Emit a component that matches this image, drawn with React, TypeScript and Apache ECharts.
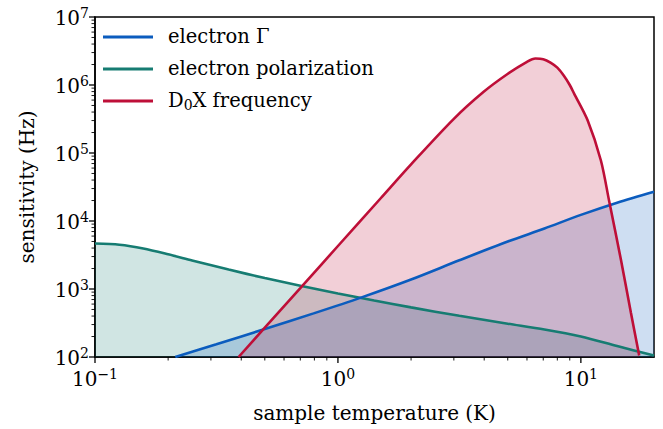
import { useEffect, useRef } from "react";
import * as echarts from "echarts";

const FONT = "DejaVu Serif";

// electron Γ
const gammaT = [0.214, 0.316, 0.5, 0.794, 1.26, 2.0, 3.16, 5.0, 7.08, 10, 14.1, 20];
const gammaHz = [100, 154, 258, 438, 760, 1380, 2640, 4980, 7760, 12300, 18600, 26900];

// electron polarization
const polT = [0.1, 0.126, 0.158, 0.2, 0.251, 0.355, 0.5, 0.708, 1.0, 1.41, 2.0, 3.16, 5.0, 7.08, 10, 14.1, 20];
const polHz = [4660, 4470, 3940, 3240, 2630, 1930, 1450, 1110, 861, 676, 537, 403, 309, 254, 200, 145, 105];

// D0X frequency
const dxT = [0.39, 0.5, 0.7, 1.0, 1.5, 2.0, 3.0, 3.98, 4.99, 6.0, 6.5, 7.0, 7.5, 8.0, 8.5, 9.0, 9.38, 10.66, 12.09, 13.08, 14.62, 16.07, 17.38];
const dxHz = [100, 270, 1030, 4290, 21600, 68000, 318000, 794000, 1450000, 2190000, 2450000, 2400000, 2140000, 1800000, 1380000, 1000000, 748000, 303000, 77600, 19500, 2690, 447, 105];

const seriesNames = ["electron Γ", "electron polarization", "D0X frequency"];
const seriesColors = ["#0B5CBE", "#167C72", "#BE0F38"];

const xMajorTicks = [0.1, 1, 10];
const xMinorTicks = [0.2, 0.3, 0.4, 0.5, 0.6, 0.7, 0.8, 0.9, 2, 3, 4, 5, 6, 7, 8, 9];
const yMajorTicks = [1e2, 1e3, 1e4, 1e5, 1e6, 1e7];
const yMinorTicks = [2, 3, 4, 5, 6, 7, 8, 9].flatMap((m) => [1e2, 1e3, 1e4, 1e5, 1e6].map((d) => m * d));

const X_MIN = 0.1;
const X_MAX = 20;
const Y_MIN = 100;
const Y_MAX = 1e7;

const zip = (xs: number[], ys: number[]) => xs.map((x, i) => [x, ys[i]]);

function powLabel(v: number): string {
  const e = Math.log10(v);
  const r = Math.round(e);
  if (Math.abs(e - r) > 1e-6) return "";
  return `{b|10}{s|${r < 0 ? "\u2212" + -r : r}}`;
}

const labelRich = {
  b: { fontFamily: FONT, fontSize: 20, color: "#000", lineHeight: 22, verticalAlign: "bottom" },
  s: { fontFamily: FONT, fontSize: 14, color: "#000", lineHeight: 12, verticalAlign: "top" },
};

export default function App() {
  const ref = useRef<HTMLDivElement>(null);

  useEffect(() => {
    if (!ref.current) return;
    const chart = echarts.init(ref.current, undefined, { renderer: "svg" });

    const lineData = [zip(gammaT, gammaHz), zip(polT, polHz), zip(dxT, dxHz)];
    // draw order: polarization, Γ, D0X
    const order = [1, 0, 2];

    const fillSeries = order.map((i) => ({
      type: "line",
      name: "fill-" + i,
      data: lineData[i],
      smooth: 0.3,
      showSymbol: false,
      silent: true,
      z: 1,
      lineStyle: { width: 0, opacity: 0 },
      areaStyle: { color: seriesColors[i], opacity: 0.2, origin: "start" },
    }));

    const lineSeries = order.map((i) => ({
      type: "line",
      name: seriesNames[i],
      data: lineData[i],
      smooth: 0.3,
      showSymbol: false,
      z: 3,
      color: seriesColors[i],
      lineStyle: { width: 2.6, color: seriesColors[i] },
    }));

    const tickData = [
      ...xMajorTicks.map((v) => [v, 0, 1, Y_MIN]),
      ...xMinorTicks.map((v) => [v, 0, 0, Y_MIN]),
      ...yMajorTicks.map((v) => [X_MIN, 1, 1, v]),
      ...yMinorTicks.map((v) => [X_MIN, 1, 0, v]),
    ];

    const tickSeries = {
      type: "custom",
      name: "ticks",
      silent: true,
      clip: false,
      z: 10,
      encode: { x: 0, y: 3 },
      data: tickData,
      renderItem: (_params: any, api: any) => {
        const axis = api.value(1);
        const major = api.value(2) === 1;
        const p = api.coord([api.value(0), api.value(3)]);
        const len = major ? 6 : 3.5;
        const shape =
          axis === 0
            ? { x1: p[0], y1: p[1], x2: p[0], y2: p[1] + len }
            : { x1: p[0], y1: p[1], x2: p[0] - len, y2: p[1] };
        return {
          type: "line",
          shape,
          style: { stroke: "#000", lineWidth: major ? 1.3 : 0.9 },
        };
      },
    };

    chart.setOption({
      animation: false,
      backgroundColor: "#fff",
      textStyle: { fontFamily: FONT },
      grid: {
        left: 95,
        right: 9,
        top: 17,
        bottom: 72,
        show: true,
        borderColor: "#000",
        borderWidth: 1.5,
        backgroundColor: "transparent",
      },
      legend: {
        data: seriesNames,
        orient: "vertical",
        left: 103,
        top: 26,
        padding: 0,
        itemWidth: 50,
        itemHeight: 3,
        itemGap: 12,
        icon: "rect",
        selectedMode: false,
        formatter: (name: string) =>
          name === "D0X frequency" ? "{t|D}{sub|0}{t|X frequency}" : `{t|${name}}`,
        textStyle: {
          fontFamily: FONT,
          fontSize: 19.5,
          color: "#000",
          padding: [0, 0, 0, 10],
          rich: {
            t: { fontFamily: FONT, fontSize: 19.5, color: "#000", lineHeight: 22, verticalAlign: "top" },
            sub: { fontFamily: FONT, fontSize: 14, color: "#000", lineHeight: 11, verticalAlign: "bottom" },
          },
        },
      },
      xAxis: {
        type: "log",
        logBase: 10,
        min: X_MIN,
        max: X_MAX,
        name: "sample temperature (K)",
        nameLocation: "middle",
        nameGap: 46,
        nameTextStyle: { fontFamily: FONT, fontSize: 20, color: "#000" },
        axisLine: { show: true, lineStyle: { color: "#000", width: 1.5 } },
        axisTick: { show: false },
        splitLine: { show: false },
        minorTick: { show: false },
        axisLabel: {
          margin: 10,
          fontFamily: FONT,
          formatter: (v: number) => powLabel(v),
          rich: labelRich,
        },
      },
      yAxis: {
        type: "log",
        logBase: 10,
        min: Y_MIN,
        max: Y_MAX,
        name: "sensitivity (Hz)",
        nameLocation: "middle",
        nameGap: 58.5,
        nameTextStyle: { fontFamily: FONT, fontSize: 20, color: "#000" },
        axisLine: { show: true, lineStyle: { color: "#000", width: 1.5 } },
        axisTick: { show: false },
        splitLine: { show: false },
        minorTick: { show: false },
        axisLabel: {
          margin: 6,
          fontFamily: FONT,
          formatter: (v: number) => powLabel(v),
          rich: labelRich,
        },
      },
      series: [...fillSeries, ...lineSeries, tickSeries],
    });

    return () => chart.dispose();
  }, []);

  return (
    <div
      ref={ref}
      style={{ position: "absolute", left: 0, top: 0, width: 663, height: 429 }}
    />
  );
}
